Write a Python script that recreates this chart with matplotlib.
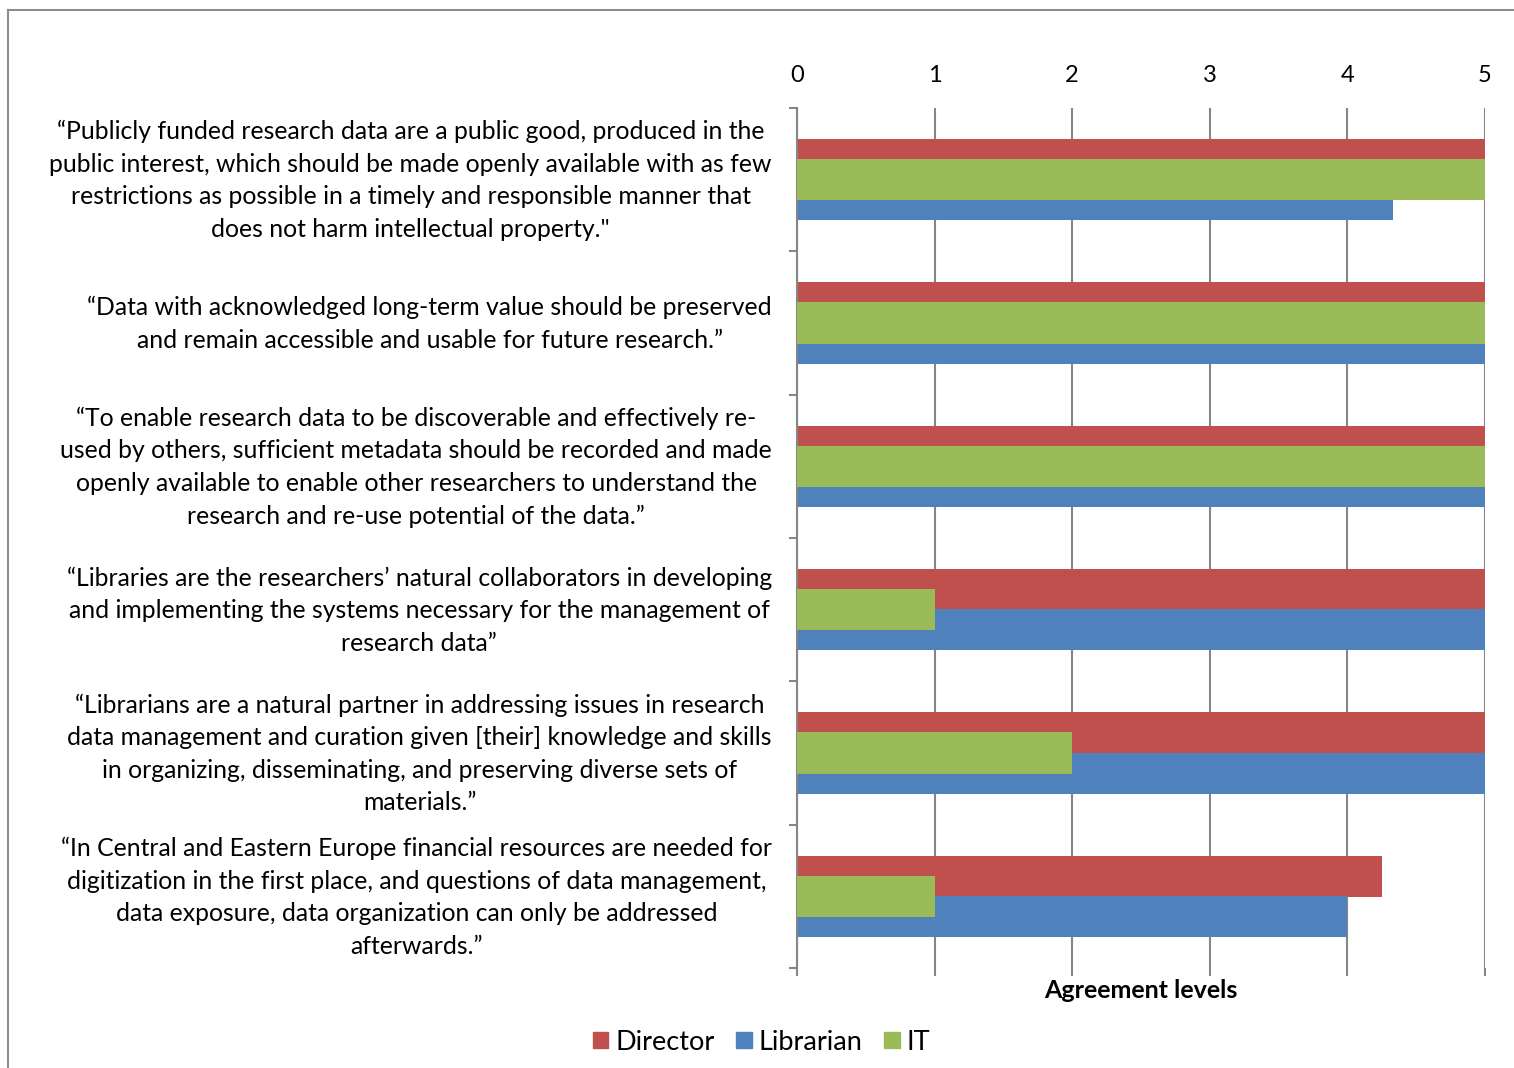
import numpy as np
import matplotlib
matplotlib.use("Agg")
import matplotlib.pyplot as plt
import matplotlib.transforms as mtransforms
from matplotlib.lines import Line2D
from matplotlib.patches import Patch

plt.rcParams['font.family'] = ['Lato', 'DejaVu Sans']

# statements, top to bottom
statements = [
    "\u201cPublicly funded research data are a public good, produced in the\n"
    "public interest, which should be made openly available with as few\n"
    "restrictions as possible in a timely and responsible manner that\n"
    "does not harm intellectual property.\"",
    "\u201cData with acknowledged long-term value should be preserved\n"
    "and remain accessible and usable for future research.\u201d",
    "\u201cTo enable research data to be discoverable and effectively re-\n"
    "used by others, sufficient metadata should be recorded and made\n"
    "openly available to enable other researchers to understand the\n"
    "research and re-use potential of the data.\u201d",
    "\u201cLibraries are the researchers\u2019 natural collaborators in developing\n"
    "and implementing the systems necessary for the management of\n"
    "research data\u201d",
    "\u201cLibrarians are a natural partner in addressing issues in research\n"
    "data management and curation given [their] knowledge and skills\n"
    "in organizing, disseminating, and preserving diverse sets of\n"
    "materials.\u201d",
    "\u201cIn Central and Eastern Europe financial resources are needed for\n"
    "digitization in the first place, and questions of data management,\n"
    "data exposure, data organization can only be addressed\n"
    "afterwards.\u201d",
]

director = [5, 5, 5, 5, 5, 4.25]
librarian = [4.33, 5, 5, 5, 5, 4]
it = [5, 5, 5, 1, 2, 1]

c_dir = '#C0504D'
c_lib = '#4F81BD'
c_it = '#9BBB59'
grey = '#868686'

fig = plt.figure(figsize=(15.14, 10.68), dpi=100)
ax = fig.add_axes([0.5264, 0.0936, 0.4544, 0.8053])

y = np.arange(len(statements))
h = 0.287
off = 0.14

ax.barh(y - off, director, height=h, color=c_dir, zorder=2)
ax.barh(y + off, librarian, height=h, color=c_lib, zorder=2)
ax.barh(y, it, height=h, color=c_it, zorder=3)

ax.set_xlim(0, 5)
ax.set_ylim(len(statements) - 0.5, -0.5)

# x axis: labels on top, tick marks below
ax.set_xticks(range(6))
ax.xaxis.grid(True, color=grey, linewidth=1.5)
ax.set_axisbelow(True)
ax.tick_params(axis='x', which='major', top=False, labeltop=True,
               bottom=True, labelbottom=False, length=6, width=1.5,
               color=grey, labelsize=17, pad=10)

# y axis: category labels, boundary ticks
ax.set_yticks(y)
ax.set_yticklabels(statements, multialignment='center', fontsize=17.8,
                   linespacing=1.5)
ax.tick_params(axis='y', which='major', length=0, pad=18)
shift = mtransforms.ScaledTranslation(0, 0.06, fig.dpi_scale_trans)
for lbl in ax.get_yticklabels():
    lbl.set_transform(lbl.get_transform() + shift)
ax.set_yticks(np.arange(-0.5, len(statements)), minor=True)
ax.tick_params(axis='y', which='minor', length=6, width=1.5, color=grey)

for s in ['top', 'right', 'bottom']:
    ax.spines[s].set_visible(False)
ax.spines['left'].set_color(grey)
ax.spines['left'].set_linewidth(1.5)

ax.set_xlabel('Agreement levels', fontsize=18, fontweight='bold', labelpad=2)

handles = [Patch(color=c_dir), Patch(color=c_lib), Patch(color=c_it)]
fig.legend(handles, ['Director', 'Librarian', 'IT'], loc='center',
           bbox_to_anchor=(0.503, 0.0243), ncol=3, frameon=False,
           fontsize=19.5, handlelength=0.58, handleheight=0.58,
           handletextpad=0.25, columnspacing=0.8)

# outer chart frame (partly cut off)
fig.add_artist(Line2D([8 / 1514, 1.0], [1 - 10 / 1068] * 2, color='#8c8c8c',
                      linewidth=1.5, transform=fig.transFigure))
fig.add_artist(Line2D([8 / 1514] * 2, [0.0, 1 - 10 / 1068], color='#8c8c8c',
                      linewidth=1.5, transform=fig.transFigure))

fig.savefig('out.png', dpi=100)
